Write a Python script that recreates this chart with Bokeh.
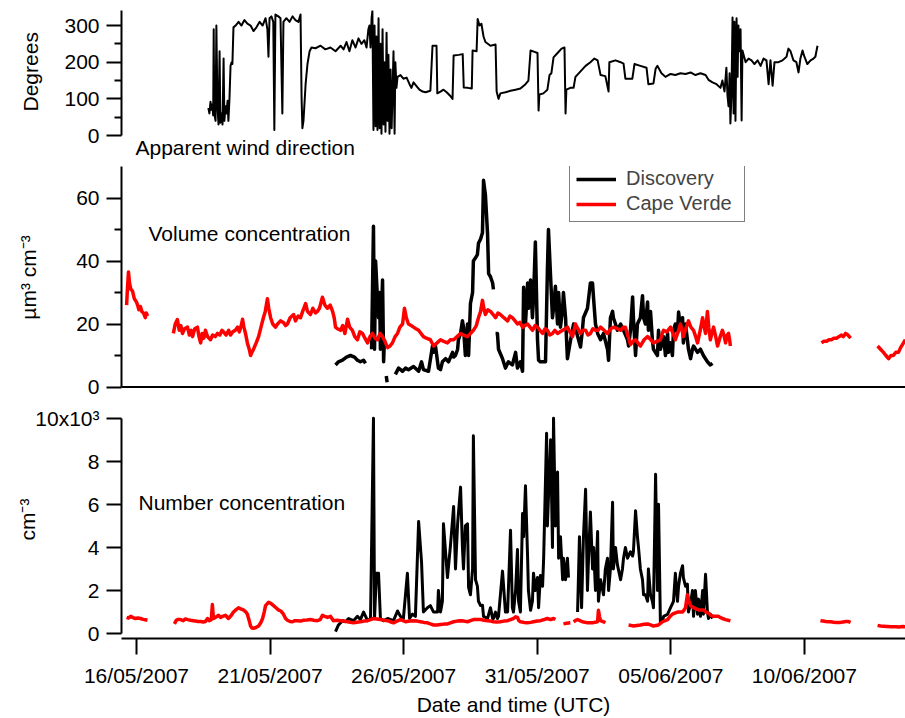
import math
from datetime import datetime

from bokeh.embed import file_html
from bokeh.layouts import column
from bokeh.models import (DatetimeTickFormatter, FixedTicker, Label, Legend,
                          LegendItem, Range1d, Span, Title)
from bokeh.plotting import figure
from bokeh.resources import INLINE

NaN = float("nan")

# Times are in days since 2007-05-01 00:00 UTC; NaN marks a break in a record.

# Apparent wind direction measured on the Discovery (degrees)
wind_day = [17.69, 17.73, 17.77, 17.80, 17.84, 17.87, 17.89, 17.91, 17.96, 17.99,
            18.03, 18.07, 18.11, 18.14, 18.18, 18.22, 18.26, 18.29, 18.33, 18.37,
            18.41, 18.44, 18.48, 18.52, 18.56, 18.59, 18.63, 18.71, 18.82, 18.93,
            19.04, 19.15, 19.27, 19.38, 19.49, 19.61, 19.72, 19.83, 19.90, 19.94,
            19.98, 20.05, 20.12, 20.16, 20.20, 20.31, 20.39, 20.46, 20.50, 20.61,
            20.73, 20.84, 20.95, 21.06, 21.14, 21.18, 21.21, 21.25, 21.33, 21.40,
            21.48, 21.55, 21.70, 21.89, 22.07, 22.26, 22.45, 22.64, 22.75, 22.86,
            22.97, 23.08, 23.20, 23.31, 23.42, 23.53, 23.61, 23.68, 23.72, 23.76,
            23.80, 23.83, 23.87, 23.91, 23.95, 23.98, 24.02, 24.06, 24.10, 24.13,
            24.17, 24.21, 24.25, 24.28, 24.32, 24.36, 24.40, 24.43, 24.47, 24.51,
            24.55, 24.62, 24.66, 24.69, 24.73, 24.77, 24.88, 24.99, 25.11, 25.22,
            25.29, 25.37, 25.48, 25.59, 25.71, 25.82, 26.00, 26.08, 26.23, 26.26,
            26.38, 26.49, 26.61, 26.72, 26.83, 26.87, 27.06, 27.21, 27.25, 27.40,
            27.55, 27.58, 27.73, 27.77, 27.84, 27.91, 27.99, 28.06, 28.25, 28.44,
            28.48, 28.55, 28.62, 28.81, 29.00, 29.19, 29.37, 29.56, 29.67, 29.75,
            29.90, 30.01, 30.05, 30.08, 30.23, 30.38, 30.46, 30.53, 30.61, 30.76,
            30.91, 31.02, 31.06, 31.09, 31.24, 31.36, 31.43, 31.62, 31.81, 31.99,
            32.14, 32.26, 32.37, 32.55, 32.67, 32.70, 32.93, 33.12, 33.23, 33.30,
            33.56, 33.64, 33.86, 34.09, 34.16, 34.35, 34.43, 34.50, 34.65, 34.80,
            34.99, 35.17, 35.36, 35.55, 35.74, 35.92, 36.11, 36.30, 36.41, 36.56,
            36.71, 36.86, 36.93, 37.01, 37.08, 37.12, 37.16, 37.20, 37.23, 37.27,
            37.31, 37.35, 37.38, 37.42, 37.46, 37.50, 37.53, 37.57, 37.61, 37.65,
            37.68, 37.80, 37.91, 38.02, 38.13, 38.25, 38.36, 38.47, 38.58, 38.66,
            38.73, 38.81, 38.88, 39.03, 39.18, 39.33, 39.40, 39.48, 39.59, 39.70,
            39.78, 39.85, 39.93, 40.00, 40.11, 40.23, 40.34, 40.41, 40.49]
wind_deg = [75, 60, 92, 70, 85, 55, 290, 60, 40, 300,
            80, 30, 230, 35, 60, 30, 210, 40, 80, 60,
            95, 40, 100, 190, 200, 195, 295, 300, 310, 300,
            315, 305, 300, 285, 295, 310, 300, 320, 290, 215,
            320, 325, 310, 15, 330, 325, 320, 60, 310, 320,
            310, 325, 315, 310, 330, 100, 20, 40, 140, 195,
            230, 240, 238, 245, 235, 240, 230, 245, 235, 255,
            230, 260, 240, 265, 250, 260, 240, 290, 300, 240,
            320, 340, 15, 300, 25, 270, 15, 320, 20, 250,
            5, 290, 30, 200, 10, 280, 40, 220, 5, 180,
            20, 230, 5, 200, 130, 160, 165, 155, 158, 140,
            130, 145, 135, 125, 120, 118, 122, 245, 245, 115,
            120, 125, 118, 110, 100, 218, 220, 222, 131, 130,
            128, 232, 230, 318, 300, 305, 270, 255, 245, 248,
            120, 100, 115, 118, 122, 125, 128, 140, 150, 232,
            228, 225, 68, 112, 115, 125, 165, 170, 213, 225,
            237, 240, 60, 125, 130, 130, 160, 175, 190, 200,
            210, 205, 165, 162, 120, 200, 205, 200, 196, 155,
            155, 195, 190, 185, 140, 142, 182, 190, 170, 160,
            168, 165, 170, 168, 172, 165, 170, 165, 152, 145,
            140, 130, 150, 120, 185, 110, 80, 170, 33, 110,
            322, 60, 310, 40, 320, 160, 300, 230, 290, 41,
            232, 200, 210, 205, 195, 205, 190, 210, 205, 140,
            205, 136, 200, 200, 205, 215, 237, 230, 205, 200,
            172, 210, 232, 215, 195, 205, 210, 215, 245]

# Aerosol volume concentration, Cape Verde (um^3 cm^-3)
cv_vol_day = [14.63, 14.66, 14.70, 14.74, 14.79, 14.85, 14.92, 15.00, 15.04, 15.09,
              15.15, 15.20, 15.26, 15.33, 15.37, 15.41, NaN,
              16.38, 16.45, 16.53, 16.60, 16.66, 16.72, 16.80, 16.91, 16.98, 17.05,
              17.10, 17.18, 17.28, 17.34, 17.40, 17.46, 17.52, 17.58, 17.66, 17.77,
              17.85, 17.95, 18.03, 18.12, 18.20, 18.26, 18.35, 18.45, 18.52, 18.60,
              18.70, 18.78, 18.85, 18.92, 18.97, 19.02, 19.08, 19.15, 19.22, 19.27,
              19.32, 19.38, 19.48, 19.57, 19.66, 19.75, 19.82, 19.90, 19.95, 20.02,
              20.10, 20.20, 20.28, 20.39, 20.50, 20.58, 20.65, 20.75, 20.88, 20.95,
              21.05, 21.14, 21.22, 21.33, 21.40, 21.51, 21.60, 21.70, 21.77, 21.85,
              21.96, 22.05, 22.15, 22.25, 22.34, 22.40, 22.45, 22.52, 22.64, 22.72,
              22.80, 22.90, 22.98, 23.08, 23.17, 23.27, 23.36, 23.46, 23.55, 23.65,
              23.74, 23.83, 23.93, 24.02, 24.12, 24.21, 24.30, 24.40, 24.49, 24.58,
              24.68, 24.77, 24.86, 24.96, 25.03, 25.10, 25.18, 25.28, 25.37, 25.46,
              25.56, 25.65, 25.74, 25.85, 26.00, 26.12, 26.25, 26.38, 26.50, 26.64,
              26.75, 26.87, 27.00, 27.13, 27.25, 27.39, 27.50, 27.61, 27.72, 27.80,
              27.88, 27.95, 28.00, 28.06, 28.15, 28.25, 28.35, 28.44, 28.53, 28.62,
              28.75, 28.89, 28.98, 29.07, 29.17, 29.26, 29.35, 29.45, 29.54, 29.64,
              29.73, 29.82, 29.92, 30.01, 30.10, 30.20, 30.29, 30.38, 30.47, 30.57,
              30.66, 30.76, 30.85, 30.95, 31.05, 31.13, 31.22, 31.32, 31.38, 31.43,
              31.52, 31.62, 31.71, 31.81, 31.90, 31.99, 32.08, 32.18, 32.28, 32.37,
              32.50, 32.63, 32.75, 32.85, 33.00, 33.12, 33.22, 33.30, 33.40, 33.49,
              33.58, 33.68, 33.77, 33.86, 34.00, 34.13, 34.25, 34.35, 34.48, 34.61,
              34.68, 34.73, 34.85, 34.99, 35.08, 35.17, 35.27, 35.36, 35.42, 35.47,
              35.56, 35.66, 35.75, 35.85, 35.93, 36.00, 36.10, 36.19, 36.25, 36.30,
              36.37, 36.42, 36.48, 36.55, 36.60, 36.68, 36.75, 36.85, 36.93, 37.00,
              37.05, 37.11, 37.16, 37.20, 37.23, NaN,
              40.64, 40.73, 40.83, 40.92, 41.01, 41.10, 41.20, 41.30, 41.39, 41.46,
              41.54, 41.63, 41.73, NaN,
              42.74, 42.85, 42.96, 43.05, 43.15, 43.24, 43.33, 43.42, 43.52, 43.60,
              43.71, 43.78]
cv_vol = [26, 31, 36.5, 33, 31, 30.5, 28, 27, 26, 24.5,
          25.5, 24, 23.5, 22, 23.5, 22.5, NaN,
          17, 20, 21.4, 18, 19.5, 17, 18.5, 19, 16.5, 18,
          16, 18.5, 19, 16, 14, 17, 15.5, 18, 16, 15,
          16.5, 16, 17, 16.5, 18, 17.5, 16.5, 18, 16.5, 17.5,
          18, 19, 17.5, 19.5, 21.5, 19, 17, 14, 12, 10,
          11, 12, 14, 16, 19, 22, 24, 28, 25, 22,
          20, 19, 20, 21, 20.5, 19.5, 20, 22, 23, 21,
          22.5, 22, 24, 26.5, 24, 23, 25, 23.5, 24, 25,
          28.5, 26, 25, 26, 24, 22, 19, 18.5, 18, 19.5,
          17, 21.5, 19, 18, 16, 15, 17.5, 17, 15.5, 14,
          16, 17, 15.5, 15, 17, 16, 14.5, 12.5, 13, 14,
          16, 17, 19, 20, 25, 22, 20, 19.5, 19, 18.5,
          18, 17, 16, 15.5, 15, 13, 14, 15, 14.5, 14,
          15, 15, 16, 17, 16.5, 16, 17, 18, 19.5, 22,
          24, 27.5, 25, 23, 24.5, 24, 23, 22, 23.5, 23,
          22, 21, 22.5, 22, 21, 20, 20.5, 19, 19.5, 20,
          19, 18, 19.5, 19, 18, 17, 18.5, 18, 16.5, 17,
          18, 17, 17.5, 18, 18.5, 19, 17.5, 16, 18, 20,
          18.5, 17, 18, 18, 16.5, 17, 18.5, 18, 18, 19,
          18, 17, 18.5, 19, 18.5, 18, 19, 19, 16, 13.5,
          14.5, 15, 14, 13, 15, 16, 15, 14, 14.5, 15,
          17, 18, 17.5, 19, 17, 15, 17.5, 20, 18, 16,
          18.5, 21, 19, 18, 16, 14, 18, 22, 19, 17,
          24, 19, 15, 17.5, 19, 16, 13, 16, 18, 16,
          14, 16.5, 17, 15, 13, NaN,
          14, 14.5, 14.5, 15, 15, 15.5, 15.5, 16, 16.5, 16,
          17, 16.5, 15.5, NaN,
          13, 12, 11, 10, 9, 10, 10, 11, 11, 12.5,
          14, 15]

# Aerosol volume concentration, Discovery (um^3 cm^-3)
disc_vol_day = [22.45, 22.56, 22.71, 22.86, 23.01, 23.16, 23.27, 23.38, 23.50, 23.57, NaN,
                23.80, 23.87, 23.91, 23.95, 24.02, 24.06, 24.10, 24.13, 24.21, 24.25,
                24.28, NaN,
                24.35, 24.38, NaN,
                24.69, 24.81, 24.96, 25.07, 25.18, 25.37, 25.56, 25.67, 25.74, 25.93,
                26.08, 26.12, 26.19, 26.30, 26.38, 26.45, 26.57, 26.68, 26.83, 26.87,
                26.94, 27.02, 27.05, 27.13, 27.20, 27.24, 27.31, 27.39, 27.43, 27.50,
                27.58, 27.61, 27.69, 27.76, 27.80, 27.88, 27.95, 27.99, 28.06, 28.14,
                28.18, 28.25, 28.33, 28.36, NaN,
                28.44, 28.51, 28.55, 28.70, 28.81, 28.92, 29.07, 29.19, 29.26, 29.37,
                29.45, 29.49, 29.56, 29.64, 29.67, 29.75, 29.82, 29.86, 29.93, 30.01,
                30.05, 30.12, 30.20, 30.31, 30.38, 30.42, 30.50, 30.57, 30.61, 30.68,
                30.76, 30.80, 30.87, 30.95, 30.98, 31.06, 31.13, 31.25, 31.36, 31.45,
                31.62, 31.69, 31.73, 31.88, 31.99, 32.07, 32.11, 32.18, 32.26, 32.37,
                32.48, 32.63, 32.67, 32.74, 32.82, 32.85, 32.93, 33.00, 33.12, 33.23,
                33.38, 33.42, 33.49, 33.57, 33.60, 33.68, 33.75, 33.86, 33.94, 33.98,
                34.05, 34.13, 34.16, 34.24, 34.31, 34.35, 34.50, 34.54, 34.61, 34.73,
                34.80, 34.88, 34.91, 34.99, 35.06, 35.10, 35.17, 35.25, 35.29, 35.36,
                35.44, 35.47, 35.55, 35.62, 35.66, 35.74, 35.81, 35.85, 36.00, 36.11,
                36.22, 36.37, 36.48, 36.56]
disc_vol = [7, 8, 8.5, 9.5, 10, 9.5, 8.5, 8, 8.5, 7.5, NaN,
            12, 51, 12, 40, 28, 22, 30, 12, 34, 8,
            15, NaN,
            3.5, 1.5, NaN,
            4, 6, 5, 6, 5.5, 6.5, 5, 8, 5.5, 5,
            13, 11, 13, 6, 5.5, 8, 9, 8, 11, 9.5,
            10, 12, 15, 17, 21, 19, 10, 20, 10, 26.5,
            30, 40, 41, 42, 45.6, 47, 49, 65.6, 61, 48.7,
            36, 35, 33, 31, NaN,
            17, 17, 12, 9, 6, 8, 7, 11, 6, 8,
            5, 31.7, 20, 33, 25, 34, 22, 28, 46, 15,
            8.5, 8, 8, 8, 37, 50, 35, 22, 25, 32,
            20, 30, 19, 25, 30, 22, 9, 15, 20, 18,
            12.7, 18, 22, 25, 33, 33, 28, 20, 17, 15,
            17, 12, 8.5, 22, 24, 22, 20, 18, 20, 18,
            15, 13, 18, 28.6, 22, 10, 20, 22, 29, 22,
            20, 27, 18, 24, 15, 12, 10, 18, 12, 16,
            10, 17, 11, 14, 10, 18, 20, 17, 23.8, 19,
            22, 14, 20, 15, 12, 9, 12, 13, 11, 12,
            10, 8, 7, 7.5]

# Aerosol number concentration, Discovery (cm^-3)
disc_num_day = [22.45, 22.56, 22.71, 22.82, 22.94, 23.12, 23.27, 23.38, 23.50, 23.65,
                23.76, 23.87, 23.91, 23.98, 24.06, 24.13, 24.25, 24.40, 24.62, 24.77,
                24.88, 24.99, 25.14, 25.22, 25.33, 25.44, 25.56, 25.67, 25.74, 25.89,
                26.00, 26.12, 26.27, 26.30, 26.38, 26.45, 26.49, 26.64, 26.75, 26.87,
                26.94, 27.02, 27.13, 27.20, 27.24, 27.31, 27.39, 27.43, 27.50, 27.58,
                27.61, 27.69, 27.76, 27.80, 27.88, 27.95, 27.99, 28.14, 28.25, 28.33,
                28.36, 28.44, 28.51, 28.55, 28.70, 28.81, 28.89, 29.00, 29.07, 29.11,
                29.19, 29.26, 29.30, 29.37, 29.45, 29.49, 29.56, 29.64, 29.67, 29.75,
                29.82, 29.86, 29.93, 30.01, 30.05, 30.12, 30.20, 30.24, 30.35, 30.38,
                30.50, 30.57, 30.61, 30.68, 30.76, 30.80, 30.87, 30.95, 30.98, 31.06,
                31.13, 31.17, NaN,
                31.51, 31.58, 31.66, 31.73, 31.81, 31.88, 31.92, 31.99, 32.07, 32.11,
                32.18, 32.26, 32.29, 32.37, 32.48, 32.55, 32.63, 32.67, 32.74, 32.82,
                32.85, 32.93, 33.00, 33.12, 33.19, 33.23, 33.30, 33.38, 33.49, 33.57,
                33.60, 33.68, 33.75, 33.79, 33.86, 33.94, 33.98, 34.05, 34.13, 34.16,
                34.24, 34.31, 34.35, 34.43, 34.50, 34.54, 34.61, 34.69, 34.73, 34.88,
                34.99, 35.10, 35.17, 35.25, 35.29, 35.36, 35.44, 35.47, 35.55, 35.62,
                35.66, 35.74, 35.81, 35.85, 35.92, 36.00, 36.04, 36.11, 36.19, 36.22,
                36.30, 36.37, 36.41, 36.48, 36.56]
disc_num = [90, 400, 600, 550, 700, 600, 800, 650, 1000, 600,
            700, 10000, 700, 2800, 2800, 700, 600, 700, 600, 1050,
            800, 700, 2800, 700, 900, 800, 5200, 3300, 1000, 1200,
            1300, 1000, 1000, 2000, 1000, 1500, 5100, 2600, 4060, 5900,
            3000, 5100, 6800, 4000, 3000, 5000, 5100, 2140, 1800, 3000,
            9180, 2500, 2200, 1500, 1300, 1320, 800, 700, 1200, 700,
            700, 1000, 700, 800, 2900, 1000, 1000, 4800, 1200, 1000,
            2000, 3900, 1500, 1000, 5570, 4500, 6860, 3500, 2000, 1080,
            1500, 2800, 2000, 2600, 1200, 2700, 2200, 3500, 9300, 5000,
            9000, 4000, 10000, 5000, 7500, 3500, 4500, 2500, 3500, 2500,
            3500, 2600, NaN,
            1000, 4500, 1200, 4500, 6700, 2000, 3500, 5650, 3000, 4000,
            2000, 4740, 1500, 2500, 1800, 3000, 3500, 2000, 3000, 6100,
            3000, 4000, 3200, 2500, 3000, 3500, 4000, 3500, 3800, 3600,
            3800, 5700, 4500, 4000, 3000, 2500, 1800, 1800, 1500, 3000,
            1800, 1500, 1200, 7400, 2000, 6000, 500, 600, 800, 900,
            1200, 1500, 2800, 1500, 2200, 2800, 3150, 2600, 2200, 2300,
            1000, 1400, 2000, 800, 2000, 900, 1600, 800, 2000, 900,
            2750, 1000, 700, 900, 700]

# Aerosol number concentration, Cape Verde (cm^-3)
cv_num_day = [14.63, 14.70, 14.78, 14.87, 14.96, 15.05, 15.15, 15.25, 15.33, 15.41, NaN,
              16.42, 16.48, 16.53, 16.65, 16.75, 16.83, 16.92, 17.02, 17.12, 17.21,
              17.30, 17.40, 17.50, 17.58, 17.66, 17.72, 17.80, 17.84, 17.88, 17.96,
              18.07, 18.15, 18.22, 18.33, 18.44, 18.55, 18.63, 18.72, 18.82, 18.90,
              19.00, 19.10, 19.15, 19.22, 19.27, 19.32, 19.38, 19.47, 19.57, 19.65,
              19.72, 19.78, 19.83, 19.94, 20.03, 20.13, 20.22, 20.31, 20.40, 20.50,
              20.58, 20.65, 20.75, 20.84, 20.93, 21.03, 21.14, 21.25, 21.38, 21.51,
              21.64, 21.77, 21.88, 21.96, 22.05, 22.15, 22.26, 22.37, 22.50, 22.64,
              22.77, 22.90, 23.01, 23.12, 23.25, 23.38, 23.51, 23.65, 23.76, 23.87,
              24.00, 24.13, 24.27, 24.40, 24.51, 24.62, 24.75, 24.88, 24.98, 25.07,
              25.22, 25.37, 25.50, 25.63, 25.76, 25.89, 26.00, 26.12, 26.25, 26.38,
              26.51, 26.64, 26.75, 26.87, 27.00, 27.13, 27.26, 27.39, 27.50, 27.61,
              27.75, 27.88, 28.01, 28.14, 28.25, 28.36, 28.49, 28.62, 28.75, 28.89,
              29.00, 29.11, 29.19, 29.26, 29.31, 29.37, 29.50, 29.64, 29.75, 29.86,
              30.00, 30.12, 30.25, 30.38, 30.50, 30.61, 30.68, NaN,
              30.98, 31.10, 31.24, NaN,
              31.36, 31.45, 31.51, 31.60, 31.69, 31.80, 31.88, 31.98, 32.07, 32.16,
              32.26, 32.29, 32.33, 32.37, 32.48, 32.55, NaN,
              33.42, 33.51, 33.60, 33.73, 33.86, 34.00, 34.13, 34.24, 34.35, 34.45,
              34.54, 34.69, 34.88, 34.97, 35.06, 35.15, 35.25, 35.35, 35.44, 35.50,
              35.55, 35.62, 35.68, 35.74, 35.85, 35.95, 36.04, 36.13, 36.22, 36.32,
              36.41, 36.50, 36.60, 36.70, 36.78, 36.85, 36.93, 37.05, 37.15, 37.23, NaN,
              40.60, 40.70, 40.80, 40.90, 40.98, 41.10, 41.20, 41.35, 41.45, 41.55,
              41.65, 41.73, NaN,
              42.74, 42.85, 42.96, 43.10, 43.25, 43.41, 43.55, 43.68, 43.78]
cv_num = [750, 720, 800, 740, 700, 720, 700, 660, 640, 620, NaN,
          450, 600, 650, 650, 600, 680, 650, 620, 600, 580,
          560, 560, 540, 560, 700, 600, 650, 1350, 700, 750,
          850, 750, 800, 850, 700, 850, 1000, 1100, 1200, 1150,
          1100, 1000, 900, 600, 350, 260, 250, 280, 350, 500,
          700, 1000, 1300, 1450, 1400, 1300, 1200, 1100, 1050, 900,
          700, 620, 560, 550, 600, 600, 580, 620, 630, 650,
          620, 600, 650, 850, 800, 750, 800, 600, 620, 600,
          580, 550, 520, 500, 530, 550, 580, 600, 650, 700,
          680, 650, 620, 600, 550, 500, 580, 650, 600, 550,
          580, 600, 580, 550, 520, 500, 450, 400, 400, 420,
          440, 450, 500, 550, 580, 600, 580, 550, 600, 650,
          660, 650, 620, 600, 580, 550, 540, 550, 580, 600,
          650, 700, 780, 750, 600, 550, 520, 500, 520, 550,
          580, 600, 650, 700, 650, 700, 650, NaN,
          450, 480, 500, NaN,
          550, 620, 650, 600, 550, 520, 500, 500, 500, 530,
          550, 1080, 800, 600, 550, 500, NaN,
          400, 380, 350, 380, 400, 430, 450, 400, 350, 380,
          400, 550, 650, 800, 900, 950, 1000, 1000, 1000, 1100,
          1200, 1800, 1500, 1300, 1200, 1150, 1100, 1100, 1100, 1000,
          950, 850, 800, 800, 800, 750, 700, 650, 620, 600, NaN,
          600, 580, 560, 550, 550, 530, 520, 520, 540, 560,
          560, 520, NaN,
          380, 350, 340, 330, 320, 320, 310, 330, 320]

# Axis ticks and their labels
date_ticks = [datetime(2007, 5, 16), datetime(2007, 5, 21), datetime(2007, 5, 26),
              datetime(2007, 5, 31), datetime(2007, 6, 5), datetime(2007, 6, 10)]
wind_ticks = [0, 100, 200, 300]
wind_minor = [50, 150, 250]
vol_ticks = [0, 20, 40, 60]
vol_minor = [10, 30, 50]
num_ticks = [0, 2000, 4000, 6000, 8000, 10000]
num_tick_labels = ["0", "2", "4", "6", "8", "10x10\u00b3"]

FONT = "Liberation Sans"
EPOCH_MS = (datetime(2007, 5, 1) - datetime(1970, 1, 1)).total_seconds() * 1000.0


def to_ms(days):
    return [EPOCH_MS + d * 86400000.0 for d in days]


def ms(dt):
    return (dt - datetime(1970, 1, 1)).total_seconds() * 1000.0


x_range = Range1d(ms(datetime(2007, 5, 15, 10, 32)), ms(datetime(2007, 6, 13, 18, 49)))


def make_panel(height, border_top, border_bottom, y_range, show_x=False):
    kw = dict(width=905, height=height, x_range=x_range, y_range=y_range,
              output_backend="svg", toolbar_location=None,
              min_border_left=121, min_border_right=0,
              min_border_top=border_top, min_border_bottom=border_bottom)
    if show_x:
        p = figure(x_axis_type="datetime", **kw)
    else:
        p = figure(x_axis_location=None, **kw)
    p.outline_line_color = None
    p.grid.visible = False
    p.background_fill_color = "white"
    p.border_fill_color = "white"
    ax = p.yaxis[0]
    ax.axis_line_color = "black"
    ax.axis_line_width = 2
    ax.major_tick_line_width = 2
    ax.minor_tick_line_width = 2
    ax.major_tick_out = 15
    ax.major_tick_in = 0
    ax.minor_tick_out = 7
    ax.minor_tick_in = 0
    ax.major_label_text_font = FONT
    ax.major_label_text_font_size = "21px"
    ax.major_label_text_color = "black"
    ax.major_label_standoff = 7
    ax.axis_label_text_font = FONT
    ax.axis_label_text_font_size = "21px"
    ax.axis_label_text_font_style = "normal"
    ax.axis_label_text_color = "black"
    return p


def add_text(p, x, y, text):
    p.add_layout(Label(x=x, y=y, x_units="screen", y_units="screen", text=text,
                       text_font=FONT, text_font_size="21px", text_color="black",
                       text_align="left", text_baseline="alphabetic"))


# --- apparent wind direction ---
p1 = make_panel(160, 10, 0, Range1d(-68.1, 341))
p1.yaxis[0].ticker = FixedTicker(ticks=wind_ticks, minor_ticks=wind_minor)
p1.yaxis[0].bounds = (0, 341)
p1.line(to_ms(wind_day), wind_deg, line_color="black", line_width=2, line_join="round")
p1.add_layout(Title(text="Degrees", align="left", offset=49, standoff=35,
                    vertical_align="top",
                    text_font=FONT, text_font_size="21px", text_font_style="normal",
                    text_color="black"), "left")
add_text(p1, 14, 13, "Apparent wind direction")

# --- volume concentration ---
p2 = make_panel(240, 6, 12, Range1d(-0.476, 70))
p2.yaxis[0].ticker = FixedTicker(ticks=vol_ticks, minor_ticks=vol_minor)
p2.yaxis[0].bounds = (0, 70)
p2.yaxis[0].axis_label = "\u00b5m\u00b3 cm\u207b\u00b3"
p2.yaxis[0].axis_label_standoff = 33
p2.add_layout(Span(location=0, dimension="width", line_color="black", line_width=2))
r_disc = p2.line(to_ms(disc_vol_day), disc_vol, line_color="black", line_width=3.5,
                 line_join="round")
r_cv = p2.line(to_ms(cv_vol_day), cv_vol, line_color="#ff0000", line_width=3.5,
               line_join="round")
legend = Legend(items=[LegendItem(label="Discovery", renderers=[r_disc]),
                       LegendItem(label="Cape Verde", renderers=[r_cv])],
                location=(448, 166), margin=0, padding=6, spacing=2,
                glyph_width=40, glyph_height=22, label_height=22, label_width=112,
                label_standoff=10,
                label_text_font=FONT, label_text_font_size="20px",
                border_line_color="black", border_line_width=1.5,
                background_fill_color="white", background_fill_alpha=1.0)
p2.add_layout(legend)
add_text(p2, 27, 155, "Volume concentration")

# --- number concentration ---
p3 = make_panel(318, 0, 76, Range1d(-228, 10822), show_x=True)
p3.yaxis[0].ticker = FixedTicker(ticks=num_ticks, minor_ticks=[])
p3.yaxis[0].bounds = (0, 10000)
p3.yaxis[0].major_label_overrides = dict(zip(num_ticks, num_tick_labels))
p3.yaxis[0].axis_label = "cm\u207b\u00b3"
p3.yaxis[0].axis_label_standoff = -7
p3.line(to_ms(disc_num_day), disc_num, line_color="black", line_width=3,
        line_join="round")
p3.line(to_ms(cv_num_day), cv_num, line_color="#ff0000", line_width=3.5,
        line_join="round")
xa = p3.xaxis[0]
xa.ticker = FixedTicker(ticks=[ms(d) for d in date_ticks], minor_ticks=[])
xa.formatter = DatetimeTickFormatter(days="%d/%m/%Y", months="%d/%m/%Y",
                                     hours="%d/%m/%Y", years="%d/%m/%Y")
xa.axis_line_width = 2
xa.axis_line_color = "black"
xa.major_tick_line_width = 2
xa.major_tick_out = 16
xa.major_tick_in = 0
xa.minor_tick_out = 0
xa.minor_tick_in = 0
xa.major_label_text_font = FONT
xa.major_label_text_font_size = "21px"
xa.major_label_text_color = "black"
xa.major_label_standoff = 9
xa.axis_label = "Date and time (UTC)"
xa.axis_label_text_font = FONT
xa.axis_label_text_font_size = "21px"
xa.axis_label_text_font_style = "normal"
xa.axis_label_text_color = "black"
xa.axis_label_standoff = 3
add_text(p3, 17, 136, "Number concentration")

layout = column(p1, p2, p3, spacing=0)
open("out.html", "w").write(file_html(layout, INLINE, title="Discovery and Cape Verde aerosol"))
